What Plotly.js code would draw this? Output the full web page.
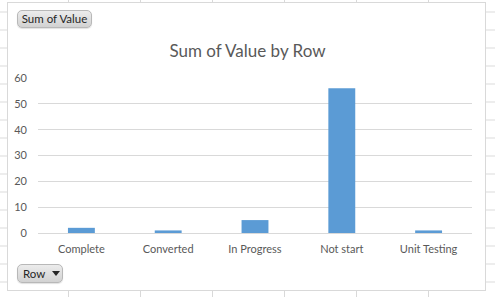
<!DOCTYPE html>
<html>
<head>
<meta charset="utf-8">
<script src="https://cdn.plot.ly/plotly-3.0.1.min.js"></script>
<style>
  html, body { margin:0; padding:0; }
  body {
    width:495px; height:297px; position:relative; overflow:hidden;
    background-color:#ffffff;
    background-image:
      repeating-linear-gradient(to right, transparent 0px, transparent 70px, #d9d9d9 70px, #d9d9d9 71px, transparent 71px, transparent 72px),
      repeating-linear-gradient(to bottom, transparent 0px, transparent 11px, #dadada 11px, #dadada 12px, transparent 12px, transparent 18px);
    background-position: -2px 0, 0 0.5px;
  }
  #frame {
    position:absolute; left:7px; top:2px; width:477px; height:287px;
    background:#ffffff; border:1px solid #d9d9d9;
  }
  #chart { position:absolute; left:0; top:0; width:495px; height:297px; }
  .btn {
    position:absolute; box-sizing:border-box;
    font-family:Lato, "Open Sans", sans-serif; font-size:11.5px; color:#262626;
    background:linear-gradient(to bottom, #ececec, #d2d2d2);
    border:1px solid #b8b8b8; border-radius:5px;
    box-shadow: 0 1px 1px rgba(0,0,0,0.12);
    line-height:16px; padding:0 3px; white-space:nowrap; text-align:center;
  }
  #valbtn { left:17px; top:10px; width:75px; height:18px; }
  #rowbtn { left:17px; top:264px; width:46px; height:19px; line-height:17px; text-align:left; padding-left:5px; }
  .tri { display:inline-block; width:0; height:0; border-left:4px solid transparent; border-right:4px solid transparent; border-top:5px solid #262626; margin-left:7px; vertical-align:2px; }
</style>
</head>
<body>
<div id="frame"></div>
<div id="chart"></div>
<div class="btn" id="valbtn">Sum of Value</div>
<div class="btn" id="rowbtn">Row<span class="tri"></span></div>
<script>
const categories = ["Complete", "Converted", "In Progress", "Not start", "Unit Testing"];
const values = [2, 1, 5, 56, 1];
const yTicks = [0, 10, 20, 30, 40, 50, 60];

const trace = {
  type: "bar",
  x: categories,
  y: values,
  marker: { color: "#5b9bd5" },
  hoverinfo: "x+y"
};

const layout = {
  width: 495, height: 297,
  margin: { l: 38, r: 23, t: 78, b: 64, pad: 0 },
  paper_bgcolor: "rgba(0,0,0,0)",
  plot_bgcolor: "rgba(0,0,0,0)",
  bargap: 0.69,
  showlegend: false,
  font: { family: "Lato, 'Open Sans', sans-serif", color: "#595959", size: 11 },
  title: {
    text: "Sum of Value by Row",
    font: { family: "Lato, 'Open Sans', sans-serif", size: 17, color: "#595959" },
    x: 0.5, xanchor: "center", xref: "container",
    y: 1 - 51/297, yanchor: "middle", yref: "container"
  },
  xaxis: {
    type: "category",
    showgrid: false,
    zeroline: false,
    showline: true, linecolor: "#d9d9d9", linewidth: 1,
    ticks: "",
    tickfont: { size: 11, color: "#595959" },
    ticklabelstandoff: 6,
    fixedrange: true
  },
  yaxis: {
    range: [0, 60],
    tickvals: yTicks,
    ticktext: yTicks.map(String),
    showgrid: true, gridcolor: "#d9d9d9", gridwidth: 1,
    zeroline: false, showline: false,
    ticks: "",
    tickfont: { size: 11, color: "#595959" },
    ticklabelstandoff: 10,
    fixedrange: true
  }
};

Plotly.newPlot("chart", [trace], layout, { displayModeBar: false, staticPlot: true });
</script>
</body>
</html>
